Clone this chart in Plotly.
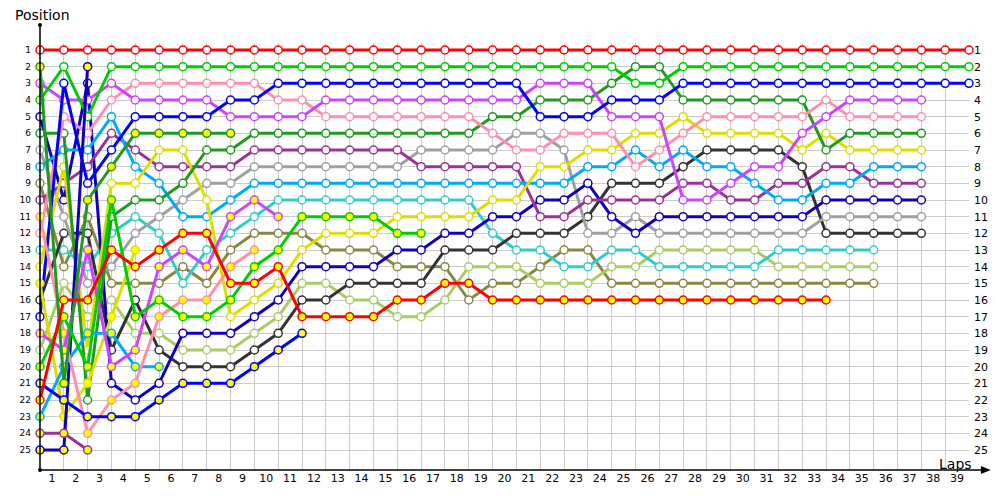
import plotly.graph_objects as go

# ---------------- data ----------------
laps = list(range(0, 40))
lap_labels = [str(i) for i in range(1, 40)]
pos_vals = list(range(1, 26))
N = None

# drivers with white markers
red = [1,1,1,1,1,1,1,1,1,1, 1,1,1,1,1,1,1,1,1,1, 1,1,1,1,1,1,1,1,1,1, 1,1,1,1,1,1,1,1,1,1]
green = [4,2,5,2,2,2,2,2,2,2, 2,2,2,2,2,2,2,2,2,2, 2,2,2,2,2,3,3,2,2,2, 2,2,2,2,2,2,2,2,2,2]
blue = [17,3,9,7,5,5,5,5,4,4, 3,3,3,3,3,3,3,3,3,3, 3,5,5,5,4,4,4,3,3,3, 3,3,3,3,3,3,3,3,3,3]
violet = [3,4,4,3,4,4,4,4,5,5, 5,5,4,4,4,4,4,4,4,4, 4,3,3,3,5,5,5,10,10,9, 8,8,6,5,4,4,4,4,N,N]
pink = [12,5,6,4,3,3,3,3,3,3, 4,4,5,5,5,5,5,5,5,6, 7,7,6,6,6,8,7,6,5,5, 5,5,5,4,5,5,5,5,N,N]
dkgreen = [6,6,22,11,10,10,9,7,7,6, 6,6,6,6,6,6,6,6,6,5, 5,4,4,4,3,2,2,4,4,4, 4,4,4,7,6,6,6,6,N,N]
yellow = [14,8,19,9,9,7,7,10,17,16, 15,13,12,12,12,11,11,11,11,10, 10,8,8,7,7,6,6,5,6,6, 6,6,7,6,7,7,7,7,N,N]
lightblue = [8,7,7,5,8,9,11,11,10,9, 9,9,9,9,9,9,9,9,9,9, 9,9,9,8,8,7,8,7,8,8, 9,10,10,9,9,8,8,8,N,N]
purple = [10,9,8,6,7,8,8,8,8,7, 7,7,7,7,7,7,8,8,8,8, 8,11,11,10,10,10,10,9,9,10, 10,9,9,8,8,9,9,9,N,N]
navy = [5,10,3,21,22,21,18,18,18,17, 16,14,14,14,14,13,13,12,12,11, 11,10,10,9,11,12,11,11,11,11, 11,11,11,10,10,10,10,10,N,N]
gray = [7,11,15,14,12,11,10,9,9,8, 8,8,8,8,8,8,7,7,7,7, 6,6,7,12,12,11,12,12,12,12, 12,12,12,11,11,11,11,11,N,N]
black = [16,12,12,19,16,19,20,20,20,19, 18,16,16,15,15,15,15,13,13,13, 12,12,12,11,9,9,9,8,7,7, 7,7,8,12,12,12,12,12,N,N]
cyan = [13,13,14,12,11,12,15,13,12,11, 10,10,10,10,10,10,10,10,10,12, 13,13,14,14,13,13,14,14,14,14, 14,13,13,13,13,13,N,N,N,N]
lightolive = [19,15,17,16,18,18,19,19,19,18, 17,15,15,16,16,17,17,16,14,14, 14,15,15,15,14,14,13,13,13,13, 13,14,14,14,14,14,N,N,N,N]
olive = [9,14,11,15,15,15,14,15,13,12, 12,12,13,13,13,14,14,14,16,15, 15,14,13,13,15,15,15,15,15,15, 15,15,15,15,15,15,N,N,N,N]

# drivers with yellow markers
red_y = [22,16,16,13,14,13,12,12,15,15, 14,17,17,17,17,16,16,15,15,16, 16,16,16,16,16,16,16,16,16,16, 16,16,16,16,N,N,N,N,N,N]
green_y = [20,17,20,10,17,16,17,17,16,14, 13,11,11,11,11,12,12]
blue_y = [21,22,23,23,23,22,21,21,21,20, 19,18]
dkgreen_y = [2,21,10,8,6,6,6,6,6]
violet_y = [18,19,13,20,19,14,13,14,11,10, 11]
pink_y = [11,18,24,22,21,17,16,16,14,13]
lightblue_y = [23,20,18,18,20,20]
purple_y = [24,24,25]
navy_y = [25,25,2]
yellow_y = [15,23,21,17,13]

colors = {
    "red": "#ff0000", "green": "#00cc00", "blue": "#0000ff", "violet": "#cc44ff",
    "pink": "#ff8fab", "dkgreen": "#229922", "yellow": "#dddd00", "lightblue": "#00a8ff",
    "purple": "#993399", "navy": "#1100bb", "gray": "#a0a0a0", "black": "#333333",
    "cyan": "#33cccc", "lightolive": "#aacc66", "olive": "#888844",
}

series = [
    ("olive", olive, "white"), ("lightolive", lightolive, "white"), ("cyan", cyan, "white"),
    ("black", black, "white"), ("gray", gray, "white"), ("navy", navy, "white"),
    ("purple", purple, "white"), ("lightblue", lightblue, "white"), ("yellow", yellow, "white"),
    ("dkgreen", dkgreen, "white"), ("pink", pink, "white"), ("violet", violet, "white"),
    ("blue", blue, "white"), ("green", green, "white"), ("red", red, "white"),
    ("yellow", yellow_y, "#ffff00"), ("navy", navy_y, "#ffff00"), ("purple", purple_y, "#ffff00"),
    ("lightblue", lightblue_y, "#ffff00"), ("pink", pink_y, "#ffff00"), ("violet", violet_y, "#ffff00"),
    ("dkgreen", dkgreen_y, "#ffff00"), ("blue", blue_y, "#ffff00"), ("green", green_y, "#ffff00"),
    ("red", red_y, "#ffff00"),
]

fig = go.Figure()
for cname, data, fill in series:
    c = colors[cname]
    fig.add_trace(go.Scatter(
        x=laps[:len(data)], y=data, mode="lines+markers",
        line=dict(color=c, width=3),
        marker=dict(symbol="circle", size=8, color=fill, line=dict(color=c, width=1.5)),
        showlegend=False, hoverinfo="skip", cliponaxis=False,
    ))

# invisible trace for right axis
fig.add_trace(go.Scatter(x=[0], y=[1], yaxis="y2", mode="markers",
                         marker=dict(opacity=0), showlegend=False, hoverinfo="skip"))

# page body has an 8px margin; work in screen pixels of the 1000x500 window
OFF = 8
W, H = 1000 - OFF, 500 - OFF
L, R, T, B = 31 - OFF, 30, 43 - OFF, 30
pw, ph = W - L - R, H - T - B

def px(x):
    return (x - OFF - L) / pw

def py(y):
    return (H - B - (y - OFF)) / ph

yr = [26.2, 0.58]
fig.update_layout(
    width=W, height=H, margin=dict(l=L, r=R, t=T, b=B, pad=0), autosize=False,
    paper_bgcolor="white", plot_bgcolor="white",
    font=dict(family="DejaVu Sans, Verdana, sans-serif", color="#000000"),
    xaxis=dict(range=[0, 39], tickmode="array", tickvals=[k - 0.5 for k in range(1, 40)],
               ticktext=lap_labels, showgrid=False, zeroline=False, showline=False, ticks="",
               tickfont=dict(size=11),
               minor=dict(tickmode="array", tickvals=laps, showgrid=True, gridcolor="#cccccc",
                          gridwidth=1, ticks="")),
    yaxis=dict(range=yr, tickmode="array", tickvals=pos_vals, ticktext=[str(p) for p in pos_vals],
               showgrid=True, gridcolor="#cccccc", gridwidth=1, zeroline=False, showline=False,
               ticks="", tickfont=dict(size=9), ticklabelstandoff=8),
    yaxis2=dict(range=yr, overlaying="y", side="right", tickmode="array", tickvals=pos_vals,
                ticktext=[str(p) for p in pos_vals], showgrid=False, zeroline=False,
                showline=False, ticks="", tickfont=dict(size=11), ticklabelstandoff=4),
)

shapes = [
    dict(type="line", xref="paper", yref="paper", x0=0, x1=0, y0=py(470), y1=py(25),
         line=dict(color="black", width=1.5)),
    dict(type="line", xref="paper", yref="paper", x0=0, x1=px(988), y0=py(470), y1=py(470),
         line=dict(color="black", width=1.5)),
    dict(type="circle", xref="paper", yref="paper", x0=px(29), x1=px(33), y0=py(27), y1=py(23),
         fillcolor="black", line=dict(color="black", width=0)),
    dict(type="circle", xref="paper", yref="paper", x0=px(29), x1=px(33), y0=py(472), y1=py(468),
         fillcolor="black", line=dict(color="black", width=0)),
    dict(type="path", xref="paper", yref="paper",
         path=f"M {px(992)} {py(470)} L {px(982)} {py(466)} L {px(982)} {py(474)} Z",
         fillcolor="black", line=dict(color="black", width=0)),
]
fig.update_layout(shapes=shapes)

fig.add_annotation(text="Position", xref="paper", yref="paper", x=px(4), y=py(15),
                   xanchor="left", yanchor="middle", showarrow=False, font=dict(size=14))
fig.add_annotation(text="Laps", xref="paper", yref="paper", x=px(975), y=py(464),
                   xanchor="right", yanchor="middle", showarrow=False, font=dict(size=14))

fig.write_html("out.html")
